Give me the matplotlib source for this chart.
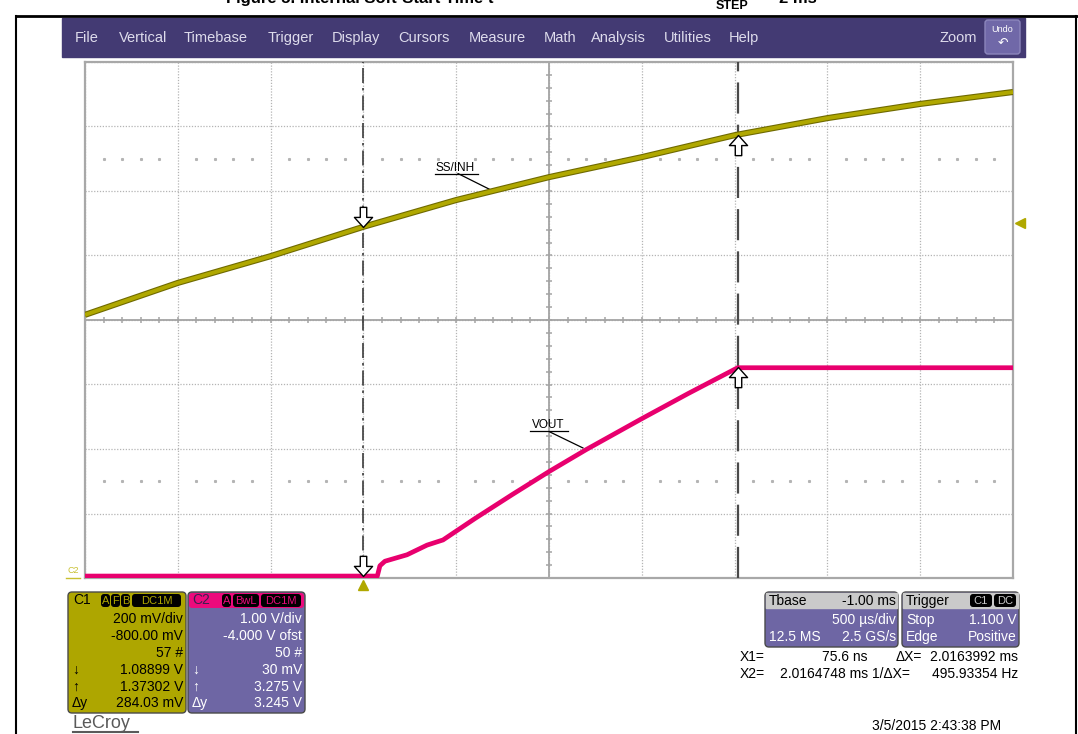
import numpy as np
import matplotlib
matplotlib.use('Agg')
import matplotlib.pyplot as plt
from matplotlib.path import Path
from matplotlib.patches import FancyBboxPatch, Rectangle
import matplotlib.transforms as mtransforms

W, H = 1078, 734
FONT = ['Liberation Sans', 'DejaVu Sans']
plt.rcParams['font.family'] = FONT

# ---------- scope settings ----------
TDIV, TDELAY = 0.5, -1.0          # ms/div, trigger delay (ms)
C1_VDIV, C1_OFS = 0.2, -0.8        # V/div, offset
C2_VDIV, C2_OFS = 1.0, -4.0

# ---------- traces (ms, V) ----------
ss_t = [-1.5, -1.0, -0.5, 0.0, 0.5, 1.0, 1.5, 2.0, 2.5, 3.0, 3.5]
ss_v = [0.816, 0.915, 0.998, 1.089, 1.172, 1.243, 1.305, 1.373, 1.426, 1.470, 1.507]

vout_t = [-1.5, 0.075, 0.089, 0.116, 0.235, 0.343, 0.429, 0.6, 0.8, 1.0, 1.2, 1.5, 1.75, 2.0165, 3.5]
vout_v = [0.03, 0.03, 0.19, 0.26, 0.36, 0.51, 0.59, 0.92, 1.29, 1.65, 1.99, 2.47, 2.86, 3.26, 3.26]

# cursors
cur_t = [0.0000756, 2.0164748]
cur_c1 = [1.08899, 1.37302]
cur_c2 = [0.030, 3.275]
trig_level = 1.100

OLIVE = '#b0a800'
PINK = '#e8006e'
PURPLE = '#6e66a4'

fig = plt.figure(figsize=(W / 100, H / 100), dpi=100)

# pixel overlay for the scope UI
ui = fig.add_axes([0, 0, 1, 1])
ui.set_xlim(0, W); ui.set_ylim(H, 0); ui.axis('off')

# ---------- page frame + clipped caption ----------
ui.plot([16, W], [16, 16], color='black', lw=2)
ui.plot([16, 16], [16, H], color='black', lw=1.5)
ui.plot([1076, 1076], [16, H], color='black', lw=1.5)
ui.text(226, 3, 'Figure 5. Internal Soft-Start Time t', fontsize=12, fontweight='bold', va='baseline')
ui.text(716, 9, 'STEP', fontsize=9, fontweight='bold', va='baseline')
ui.text(760, 3, ' = 2 ms', fontsize=12, fontweight='bold', va='baseline')

# ---------- menu bar ----------
ui.add_patch(Rectangle((62, 18), 963, 39, color='#433a73'))
menu = ['File', 'Vertical', 'Timebase', 'Trigger', 'Display', 'Cursors', 'Measure',
        'Math', 'Analysis', 'Utilities', 'Help']
menu_x = [75, 119, 184, 268, 332, 398, 469, 544, 591, 664, 729]
for m, x in zip(menu, menu_x):
    ui.text(x, 38, m, color='#dedcec', fontsize=10.5, va='center')
ui.text(940, 38, 'Zoom', color='#dedcec', fontsize=10.5, va='center')
ui.add_patch(FancyBboxPatch((985, 20), 35, 34, boxstyle='round,pad=0,rounding_size=3',
                            fc='#7068a8', ec='#8c86bc', lw=1))
ui.text(1002.5, 30, 'Undo', color='white', fontsize=6.5, ha='center', va='center')
ui.text(1002.5, 43, '\u21b6', color='white', fontsize=9, ha='center', va='center',
        family=['DejaVu Sans'])

# ---------- scope grid ----------
ax = fig.add_axes([85 / W, 1 - 578 / H, 928 / W, 516 / H])
tc = -TDELAY
ax.set_xlim(tc - 5 * TDIV, tc + 5 * TDIV)
c1_mid = -C1_OFS
ax.set_ylim(c1_mid - 4 * C1_VDIV, c1_mid + 4 * C1_VDIV)
ax.set_xticks(np.arange(tc - 5 * TDIV, tc + 5 * TDIV + 1e-9, TDIV))
ax.set_yticks(np.arange(c1_mid - 4 * C1_VDIV, c1_mid + 4 * C1_VDIV + 1e-9, C1_VDIV))
ax.tick_params(length=0, labelbottom=False, labelleft=False)
ax.grid(True, color='#b4b4b4', ls=(0, (1, 1.3)), lw=0.9)
for s in ax.spines.values():
    s.set_color('#a8a8a8'); s.set_linewidth(1.6)

ax.axvline(tc, color='#a4a4a4', lw=1.3)
ax.axhline(c1_mid, color='#a4a4a4', lw=1.3)
mx = np.arange(tc - 5 * TDIV, tc + 5 * TDIV + 1e-9, TDIV / 5)
ax.plot(mx, np.full_like(mx, c1_mid), ls='none', marker='|', ms=5, mew=1.1, color='#a4a4a4')
my = np.arange(c1_mid - 4 * C1_VDIV, c1_mid + 4 * C1_VDIV + 1e-9, C1_VDIV / 5)
ax.plot(np.full_like(my, tc), my, ls='none', marker='_', ms=5, mew=1.1, color='#a4a4a4')
# dotted rows
dx = np.array([x for x in mx if abs((x - mx[0]) / TDIV - round((x - mx[0]) / TDIV)) > 1e-6])
for yrow in (c1_mid - 2.5 * C1_VDIV, c1_mid + 2.5 * C1_VDIV):
    ax.plot(dx, np.full_like(dx, yrow), ls='none', marker='s', ms=1.2, color='#b4b4b4')

# cursors
ax.axvline(cur_t[0], color='#3c3c3c', lw=1.2, ls=(0, (9, 3, 1.5, 3)), zorder=3)
ax.axvline(cur_t[1], color='#4a4a4a', lw=1.6, ls=(0, (14, 5)), zorder=3)

ax2 = ax.twinx()
c2_mid = -C2_OFS
ax2.set_ylim(c2_mid - 4 * C2_VDIV, c2_mid + 4 * C2_VDIV)
ax2.axis('off')

ax.plot(ss_t, ss_v, color='#6f6a00', lw=4.4, zorder=4, solid_capstyle='butt')
ax.plot(ss_t, ss_v, color=OLIVE, lw=2.8, zorder=4, solid_capstyle='butt')
ax2.plot(vout_t, vout_v, color=PINK, lw=3.4, zorder=4, solid_capstyle='butt')

# cursor arrows
dn = Path([(0, 0), (0.45, 0.5), (0.16, 0.5), (0.16, 1.0), (-0.16, 1.0), (-0.16, 0.5),
           (-0.45, 0.5), (0, 0)],
          [Path.MOVETO] + [Path.LINETO] * 6 + [Path.CLOSEPOLY])
up = Path([(x, -y) for x, y in dn.vertices], dn.codes)
akw = dict(ls='none', ms=29, mfc='white', mec='black', mew=1.0, zorder=6)
ax.plot(cur_t[0], cur_c1[0], marker=dn, **akw)
ax.plot(cur_t[1], cur_c1[1], marker=up, **akw)
ax2.plot(cur_t[0], cur_c2[0], marker=dn, **akw)
ax2.plot(cur_t[1], cur_c2[1], marker=up, **akw)

# trace labels
ax.text(0.391, 1.262, 'SS/INH', fontsize=8.5, va='baseline')
ax.plot([0.386, 0.618], [1.254, 1.254], color='black', lw=0.9)
ax.plot([0.51, 0.698], [1.254, 1.200], color='black', lw=0.9)
ax2.text(0.908, 2.33, 'VOUT', fontsize=8.5, va='baseline')
ax2.plot([0.898, 1.102], [2.279, 2.279], color='black', lw=0.9)
ax2.plot([1.005, 1.183], [2.264, 2.016], color='black', lw=0.9)

# trigger markers
bt = mtransforms.blended_transform_factory(ax.transAxes, ax.transData)
ax.plot([1.0075], [trig_level], marker='<', ms=7, color=OLIVE, transform=bt, clip_on=False)
bt2 = mtransforms.blended_transform_factory(ax.transData, ax.transAxes)
ax.plot([0.0], [-0.014], marker='^', ms=7, color=OLIVE, transform=bt2, clip_on=False)

ui.text(68, 573, 'C2', color='#c8c030', fontsize=6.5, va='baseline')
ui.plot([66, 80], [578, 578], color='#c8c030', lw=1)

# ---------- channel boxes ----------
def box(x0, y0, x1, y1, fc):
    ui.add_patch(FancyBboxPatch((x0, y0), x1 - x0, y1 - y0, boxstyle='round,pad=0,rounding_size=4',
                                fc=fc, ec='#4a4a4a', lw=1))

def badge(x0, x1, text, fc, tc, y0=594, y1=607, fs=8):
    ui.add_patch(FancyBboxPatch((x0, y0), x1 - x0, y1 - y0, boxstyle='round,pad=0,rounding_size=3',
                                fc=fc, ec='none'))
    ui.text((x0 + x1) / 2, (y0 + y1) / 2 + 0.5, text, color=tc, fontsize=fs, ha='center', va='center')

rows_y = [619, 636, 653, 670, 687, 703]

c1_rows = ['200 mV/div', '-800.00 mV', '57 #', '1.08899 V', '1.37302 V', '284.03 mV']
c2_rows = ['1.00 V/div', '-4.000 V ofst', '50 #', '30 mV', '3.275 V', '3.245 V']
side = ['', '', '', '\u2193', '\u2191', '\u0394y']

box(68, 592, 186, 713, '#aea600')
ui.text(73, 600, 'C1', fontsize=10, va='center')
for (a, b), t in zip([(101, 110), (111, 120), (121, 130), (132, 181)], ['A', 'F', 'B', 'DC1M']):
    badge(a, b, t, 'black', '#aea600')
for y, t, s in zip(rows_y, c1_rows, side):
    ui.text(183, y, t, fontsize=10, ha='right', va='center')
    ui.text(72, y, s, fontsize=10, va='center')

box(188, 592, 305, 713, PURPLE)
ui.add_patch(FancyBboxPatch((189, 593), 115, 15, boxstyle='round,pad=0,rounding_size=3',
                            fc='#ec0a7c', ec='none'))
ui.text(192, 600, 'C2', fontsize=10, va='center', color='#3a2050')
for (a, b), t in zip([(222, 231), (233, 259), (261, 301)], ['A', 'BwL', 'DC1M']):
    badge(a, b, t, 'black', '#ec0a7c')
for y, t, s in zip(rows_y, c2_rows, side):
    ui.text(302, y, t, fontsize=10, ha='right', va='center', color='white')
    ui.text(192, y, s, fontsize=10, va='center', color='white')

# timebase / trigger
box(765, 592, 898, 647, PURPLE)
ui.add_patch(Rectangle((766, 593), 131, 15, color='#cacaca'))
ui.text(769, 601, 'Tbase', fontsize=10, va='center')
ui.text(896, 601, '-1.00 ms', fontsize=10, va='center', ha='right')
ui.text(896, 620, '500 \u00b5s/div', fontsize=10, va='center', ha='right', color='white')
ui.text(769, 637, '12.5 MS', fontsize=10, va='center', color='white')
ui.text(896, 637, '2.5 GS/s', fontsize=10, va='center', ha='right', color='white')

box(902, 592, 1019, 647, PURPLE)
ui.add_patch(Rectangle((903, 593), 115, 15, color='#cacaca'))
ui.text(906, 601, 'Trigger', fontsize=10, va='center')
badge(970, 992, 'C1', 'black', '#cacaca')
badge(994, 1016, 'DC', 'black', '#cacaca')
ui.text(906, 620, 'Stop', fontsize=10, va='center', color='white')
ui.text(1017, 620, '1.100 V', fontsize=10, va='center', ha='right', color='white')
ui.text(906, 637, 'Edge', fontsize=10, va='center', color='white')
ui.text(1017, 637, 'Positive', fontsize=10, va='center', ha='right', color='white')

# cursor readout
ui.text(740, 657, 'X1=', fontsize=10, va='center')
ui.text(868, 657, '75.6 ns', fontsize=10, va='center', ha='right')
ui.text(896, 657, '\u0394X=', fontsize=10, va='center')
ui.text(1018, 657, '2.0163992 ms', fontsize=10, va='center', ha='right')
ui.text(740, 674, 'X2=', fontsize=10, va='center')
ui.text(868, 674, '2.0164748 ms', fontsize=10, va='center', ha='right')
ui.text(872, 674, '1/\u0394X=', fontsize=10, va='center')
ui.text(1018, 674, '495.93354 Hz', fontsize=10, va='center', ha='right')

ui.text(872, 726, '3/5/2015 2:43:38 PM', fontsize=10, va='center')
ui.text(73, 724, 'LeCroy', fontsize=13, va='center', color='#5a5a5a')
ui.plot([73, 138], [732, 732], color='#5a5a5a', lw=1.5)

fig.savefig('out.png', dpi=100)
